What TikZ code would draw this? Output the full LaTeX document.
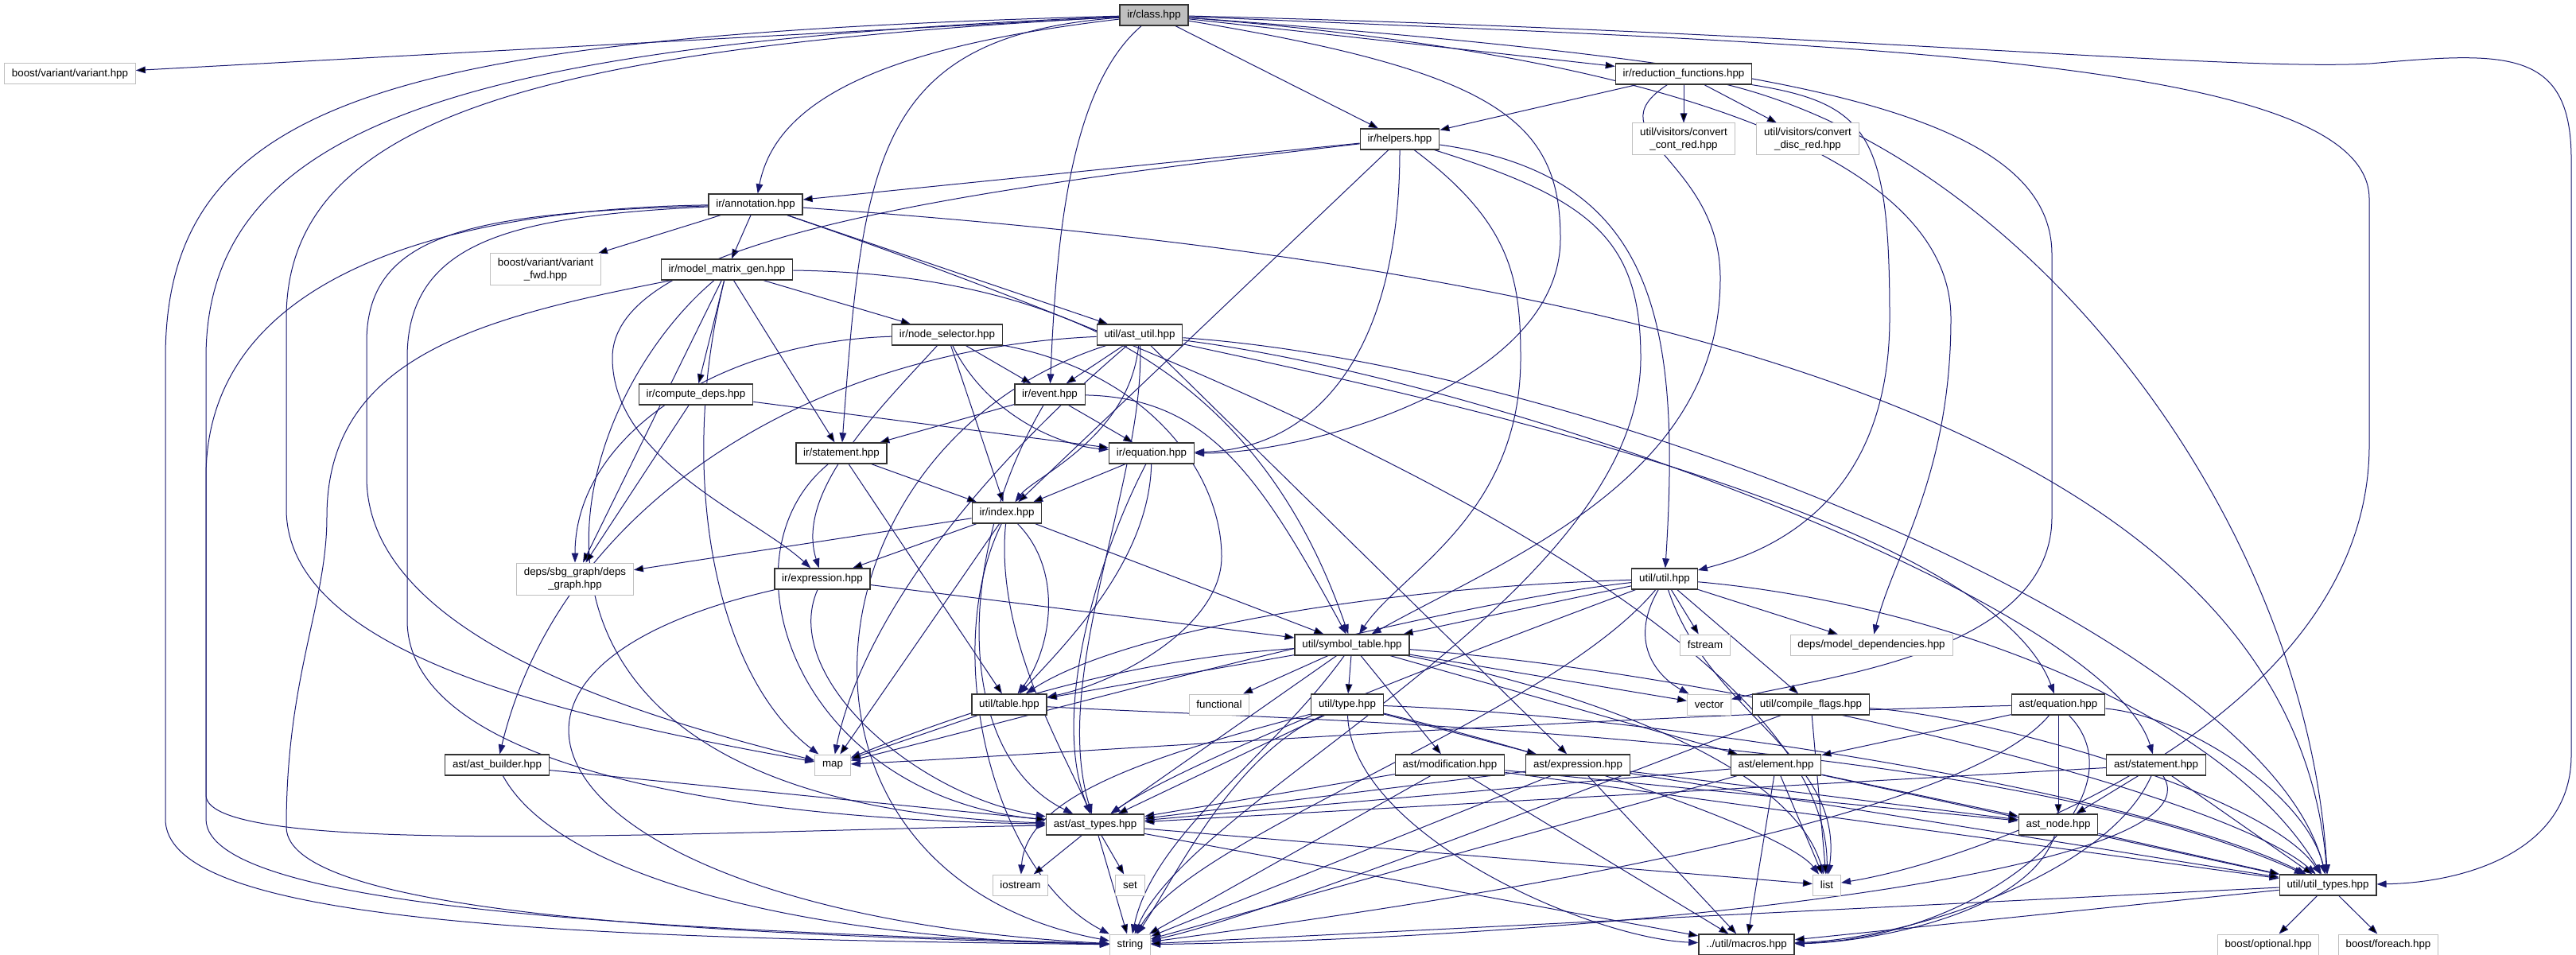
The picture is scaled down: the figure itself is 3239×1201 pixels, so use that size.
\documentclass[tikz,border=0pt]{standalone}
\usepackage{fontspec}
\setmainfont{Liberation Sans}
\usetikzlibrary{arrows.meta}
\definecolor{depblue}{HTML}{191970}
\definecolor{sysgray}{HTML}{BFBFBF}
\pgfdeclarelayer{edges}
\pgfsetlayers{edges,main}

\begin{document}
\begin{tikzpicture}[x=0.75pt,y=-0.75pt,>={Triangle[length=9pt,width=6.5pt]},
    hfile/.style={draw=black!80,fill=white,line width=1pt,inner xsep=7pt,inner ysep=0pt,minimum height=19.5pt,font=\fontsize{10}{11.5}\selectfont,align=center},
    sysfile/.style={hfile,draw=sysgray,line width=0.75pt},
    twoline/.style={minimum height=30pt},
    dep/.style={->,draw=depblue,line width=0.75pt}]
    \useasboundingbox (0,0) rectangle (3239,1201);
    \node[hfile,fill=sysgray] (cls) at (1451,19) {ir/class.hpp};
    \node[sysfile] (bvar) at (88,93) {boost/variant/variant.hpp};
    \node[hfile] (redf) at (2117,93) {ir/reduction\_functions.hpp};
    \node[hfile] (helpers) at (1760,175) {ir/helpers.hpp};
    \node[sysfile,twoline] (cvcont) at (2117,175) {util/visitors/convert\\\_cont\_red.hpp};
    \node[sysfile,twoline] (cvdisc) at (2273,175) {util/visitors/convert\\\_disc\_red.hpp};
    \node[hfile] (annot) at (950,257) {ir/annotation.hpp};
    \node[sysfile,twoline] (bfwd) at (686,339) {boost/variant/variant\\\_fwd.hpp};
    \node[hfile] (mmgen) at (914,339) {ir/model\_matrix\_gen.hpp};
    \node[hfile] (nodesel) at (1191,421) {ir/node\_selector.hpp};
    \node[hfile] (astutil) at (1433,421) {util/ast\_util.hpp};
    \node[hfile] (cdeps) at (875,496) {ir/compute\_deps.hpp};
    \node[hfile] (event) at (1320,496) {ir/event.hpp};
    \node[hfile] (stmt) at (1058,570) {ir/statement.hpp};
    \node[hfile] (equ) at (1448,570) {ir/equation.hpp};
    \node[hfile] (index) at (1266,645) {ir/index.hpp};
    \node[sysfile,twoline] (sbg) at (723,728) {deps/sbg\_graph/deps\\\_graph.hpp};
    \node[hfile] (irexpr) at (1034,728) {ir/expression.hpp};
    \node[hfile] (util) at (2093,728) {util/util.hpp};
    \node[hfile] (symtab) at (1700,811) {util/symbol\_table.hpp};
    \node[sysfile] (fstream) at (2144,811) {fstream};
    \node[sysfile] (mdeps) at (2353,811) {deps/model\_dependencies.hpp};
    \node[hfile] (table) at (1269,886) {util/table.hpp};
    \node[sysfile] (functional) at (1533,886) {functional};
    \node[hfile] (type) at (1694,886) {util/type.hpp};
    \node[sysfile] (vector) at (2149,886) {vector};
    \node[hfile] (cflags) at (2277,886) {util/compile\_flags.hpp};
    \node[hfile] (aequ) at (2588,886) {ast/equation.hpp};
    \node[hfile] (abuild) at (625,962) {ast/ast\_builder.hpp};
    \node[sysfile] (map) at (1047,962) {map};
    \node[hfile] (amod) at (1823,962) {ast/modification.hpp};
    \node[hfile] (aexpr) at (1984,962) {ast/expression.hpp};
    \node[hfile] (aelem) at (2233,962) {ast/element.hpp};
    \node[hfile] (astmt) at (2711,962) {ast/statement.hpp};
    \node[hfile] (atypes) at (1377,1037) {ast/ast\_types.hpp};
    \node[hfile] (anode) at (2588,1037) {ast\_node.hpp};
    \node[sysfile] (iostream) at (1283,1113) {iostream};
    \node[sysfile] (set) at (1421,1113) {set};
    \node[sysfile] (list) at (2297,1113) {list};
    \node[hfile] (utypes) at (2927,1113) {util/util\_types.hpp};
    \node[sysfile] (string) at (1421,1188) {string};
    \node[hfile] (macros) at (2196,1188) {../util/macros.hpp};
    \node[sysfile] (bopt) at (2852,1188) {boost/optional.hpp};
    \node[sysfile] (bfor) at (3003,1188) {boost/foreach.hpp};

    \begin{pgfonlayer}{edges}
    \draw[dep] (cls) edge (bvar) edge (helpers) edge (redf);
    \draw[dep] (cls) .. controls (1100,60) and (975,130) .. (annot);
    \draw[dep] (cls) .. controls (1345,110) and (1328,300) .. (event);
    \draw[dep] (cls) .. controls (1100,45) and (1085,200) .. (stmt);
    \draw[dep] (cls) .. controls (1880,90) and (1962,150) .. (1962,300) .. controls (1962,480) and (1650,570) .. (equ);
    \draw[dep] (cls) .. controls (500,45) and (208,120) .. (208,450) -- (208,1030) .. controls (208,1160) and (700,1180) .. (string);
    \draw[dep] (cls) .. controls (600,55) and (259,150) .. (259,450) -- (259,1000) .. controls (259,1080) and (900,1045) .. (atypes);
    \draw[dep] (cls) .. controls (700,60) and (360,140) .. (360,400) -- (360,640) .. controls (360,820) and (700,900) .. (map);
    \draw[dep] (cls) .. controls (2300,55) and (2979,70) .. (2979,250) -- (2979,560) .. controls (2979,900) and (2500,1080) .. (list);
    \draw[dep] (cls) .. controls (2200,75) and (2580,130) .. (2580,320) -- (2580,650) .. controls (2580,820) and (2300,850) .. (vector);
    \draw[dep] (cls) .. controls (2300,40) and (2800,90) .. (2980,80) .. controls (3150,65) and (3233,60) .. (3233,200) -- (3233,950) .. controls (3233,1070) and (3100,1110) .. (utypes);
    \draw[dep] (cls) .. controls (2100,70) and (2453,200) .. (2453,400) .. controls (2453,600) and (2380,700) .. (mdeps);

    \draw[dep] (annot) edge (bfwd) edge (mmgen) edge (astutil);
    \draw[dep] (annot) .. controls (1600,480) and (2300,800) .. (list);
    \draw[dep] (annot) .. controls (2000,330) and (2880,520) .. (utypes);
    \draw[dep] (annot) .. controls (600,262) and (259,330) .. (259,600) -- (259,1030) .. controls (259,1150) and (900,1170) .. (string);
    \draw[dep] (annot) .. controls (600,268) and (461,290) .. (461,430) -- (461,600) .. controls (461,800) and (800,900) .. (map);
    \draw[dep] (annot) .. controls (650,272) and (512,300) .. (512,450) -- (512,780) .. controls (512,960) and (900,1030) .. (atypes);

    \draw[dep] (mmgen) edge (nodesel) edge (cdeps) edge (stmt) edge (sbg);
    \draw[dep] (mmgen) .. controls (1400,345) and (1600,520) .. (symtab);
    \draw[dep] (mmgen) .. controls (600,400) and (411,450) .. (411,650) .. controls (411,760) and (360,850) .. (360,1040) .. controls (360,1150) and (900,1175) .. (string);
    \draw[dep] (mmgen) .. controls (700,520) and (560,1010) .. (atypes);
    \draw[dep] (mmgen) .. controls (850,600) and (900,850) .. (map);

    \draw[dep] (redf) edge (helpers) edge (cvcont) edge (cvdisc);
    \draw[dep] (redf) .. controls (2000,170) and (2163,200) .. (2163,350) .. controls (2163,600) and (1900,700) .. (symtab);
    \draw[dep] (redf) .. controls (2350,130) and (2376,170) .. (2376,400) .. controls (2376,650) and (2200,700) .. (util);
    \draw[dep] (redf) .. controls (2550,200) and (2900,650) .. (utypes);

    \draw[dep] (helpers) edge (annot) edge (index);
    \draw[dep] (helpers) .. controls (1200,240) and (770,300) .. (770,450) .. controls (770,580) and (950,650) .. (irexpr);
    \draw[dep] (helpers) .. controls (1760,450) and (1650,565) .. (equ);
    \draw[dep] (helpers) .. controls (1900,280) and (1912,350) .. (1912,450) .. controls (1912,650) and (1760,720) .. (symtab);
    \draw[dep] (helpers) .. controls (2000,250) and (2063,300) .. (2063,450) .. controls (2063,750) and (1500,1000) .. (string);
    \draw[dep] (helpers) .. controls (2080,220) and (2114,400) .. (util);

    \draw[dep] (nodesel) edge (event) edge (index);
    \draw[dep] (nodesel) .. controls (1240,520) and (1330,560) .. (equ);
    \draw[dep] (nodesel) .. controls (900,430) and (723,550) .. (sbg);
    \draw[dep] (nodesel) .. controls (1100,520) and (1000,620) .. (irexpr);
    \draw[dep] (nodesel) .. controls (1450,470) and (1536,600) .. (1536,700) .. controls (1536,790) and (1400,860) .. (table);

    \draw[dep] (astutil) edge (event) edge (aexpr);
    \draw[dep] (astutil) .. controls (1420,550) and (1300,600) .. (index);
    \draw[dep] (astutil) .. controls (1000,440) and (700,650) .. (abuild);
    \draw[dep] (astutil) .. controls (1440,600) and (1320,850) .. (atypes);
    \draw[dep] (astutil) .. controls (1000,560) and (950,1100) .. (string);
    \draw[dep] (astutil) .. controls (1200,620) and (1080,800) .. (map);
    \draw[dep] (astutil) .. controls (1800,500) and (2500,650) .. (aequ);
    \draw[dep] (astutil) .. controls (1900,480) and (2650,760) .. (astmt);
    \draw[dep] (astutil) .. controls (2000,460) and (2850,800) .. (utypes);

    \draw[dep] (cdeps) edge (sbg) edge (equ);

    \draw[dep] (event) edge (stmt) edge (equ);
    \draw[dep] (event) .. controls (1200,700) and (1200,950) .. (atypes);
    \draw[dep] (event) .. controls (1520,500) and (1585,600) .. (symtab);

    \draw[dep] (stmt) edge (index) edge (table);
    \draw[dep] (stmt) .. controls (900,700) and (1000,1000) .. (atypes);

    \draw[dep] (equ) edge (index);
    \draw[dep] (equ) .. controls (1445,700) and (1350,800) .. (table);
    \draw[dep] (equ) .. controls (1380,700) and (1320,900) .. (atypes);

    \draw[dep] (index) edge (irexpr) edge (sbg) edge (symtab) edge (map);
    \draw[dep] (index) .. controls (1340,720) and (1320,820) .. (table);
    \draw[dep] (index) .. controls (1180,820) and (1250,1100) .. (string);
    \draw[dep] (index) .. controls (1250,800) and (1340,950) .. (atypes);

    \draw[dep] (irexpr) edge (symtab);
    \draw[dep] (irexpr) .. controls (980,850) and (1150,1000) .. (atypes);
    \draw[dep] (irexpr) .. controls (500,850) and (700,1150) .. (string);

    \draw[dep] (symtab) edge (table) edge (functional) edge (type) edge (amod) edge (aelem) edge (vector) edge (atypes);
    \draw[dep] (symtab) .. controls (1400,830) and (1200,900) .. (map);
    \draw[dep] (symtab) .. controls (1600,950) and (1450,1050) .. (string);
    \draw[dep] (symtab) .. controls (1950,860) and (2250,950) .. (list);
    \draw[dep] (symtab) .. controls (2200,850) and (2800,1000) .. (utypes);

    \draw[dep] (util) edge (symtab) edge (fstream) edge (mdeps) edge (cflags);
    \draw[dep] (util) .. controls (1700,740) and (1400,800) .. (table);
    \draw[dep] (util) .. controls (1800,760) and (1300,900) .. (map);
    \draw[dep] (util) .. controls (1950,900) and (1500,1050) .. (string);
    \draw[dep] (util) .. controls (2040,820) and (2100,860) .. (vector);
    \draw[dep] (util) .. controls (2150,900) and (2320,950) .. (list);
    \draw[dep] (util) .. controls (2450,760) and (2800,900) .. (utypes);
    \draw[dep] (util) .. controls (1900,800) and (1500,950) .. (atypes);

    \draw[dep] (table) edge (map);
    \draw[dep] (table) .. controls (1600,905) and (2500,920) .. (utypes);

    \draw[dep] (type) edge (atypes) edge (aexpr);
    \draw[dep] (type) .. controls (1550,950) and (1480,1100) .. (string);
    \draw[dep] (type) .. controls (1700,1050) and (2000,1180) .. (macros);
    \draw[dep] (type) .. controls (2100,900) and (2700,1000) .. (utypes);
    \draw[dep] (type) .. controls (1450,950) and (1290,1000) .. (iostream);
    \draw[dep] (type) .. controls (2000,960) and (2250,1050) .. (list);

    \draw[dep] (aequ) edge (anode) edge (aelem);
    \draw[dep] (aequ) .. controls (2000,900) and (1300,950) .. (map);
    \draw[dep] (aequ) .. controls (2450,1050) and (1700,1150) .. (string);
    \draw[dep] (aequ) .. controls (2750,900) and (2900,1000) .. (utypes);
    \draw[dep] (aequ) .. controls (2700,1000) and (2500,1180) .. (macros);

    \draw[dep] (aelem) edge (atypes) edge (anode) edge (utypes) edge (macros) edge (string) edge (list);

    \draw[dep] (astmt) edge (atypes) edge (anode) edge (utypes);
    \draw[dep] (astmt) .. controls (2650,1100) and (2400,1180) .. (macros);
    \draw[dep] (astmt) .. controls (2800,1100) and (2000,1180) .. (string);

    \draw[dep] (amod) edge (atypes) edge (anode) edge (utypes) edge (macros) edge (string);
    \draw[dep] (aexpr) edge (atypes) edge (anode) edge (utypes) edge (macros) edge (string);

    \draw[dep] (anode) edge (utypes);
    \draw[dep] (anode) .. controls (2550,1150) and (2350,1185) .. (macros);

    \draw[dep] (atypes) edge (iostream) edge (set) edge (string) edge (list) edge (macros);
    \draw[dep] (utypes) edge (bopt) edge (bfor) edge (string) edge (macros);

    \draw[dep] (cflags) edge (list);
    \draw[dep] (cflags) .. controls (2500,900) and (2850,1000) .. (utypes);
    \draw[dep] (cflags) .. controls (2100,950) and (1600,1150) .. (string);

    \draw[dep] (abuild) edge (atypes);
    \draw[dep] (abuild) .. controls (700,1100) and (1000,1180) .. (string);
    \end{pgfonlayer}
\end{tikzpicture}
\end{document}
